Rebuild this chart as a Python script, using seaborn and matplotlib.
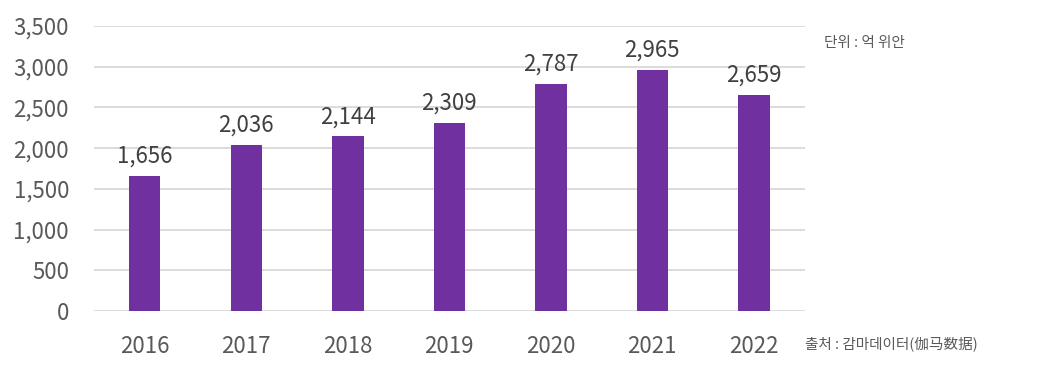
import pandas as pd
import matplotlib
matplotlib.use("Agg")
import matplotlib.pyplot as plt
import seaborn as sns

# data
years = ["2016", "2017", "2018", "2019", "2020", "2021", "2022"]
values = [1656, 2036, 2144, 2309, 2787, 2965, 2659]
y_ticks = [0, 500, 1000, 1500, 2000, 2500, 3000, 3500]

df = pd.DataFrame({"year": years, "value": values})

sns.set_style("white")
plt.rcParams["font.family"] = ["Noto Sans CJK KR", "DejaVu Sans"]

fig = plt.figure(figsize=(10.48, 3.72), dpi=100)
ax = fig.add_axes([0.0897, 0.164, 0.678, 0.766])

sns.barplot(data=df, x="year", y="value", color="#7030A0",
            width=0.31, saturation=1, linewidth=0, ax=ax, zorder=3)

ax.set_ylim(0, 3500)
ax.set_xlim(-0.5, len(years) - 0.5)
ax.set_yticks(y_ticks)
ax.set_yticklabels([f"{v:,}" for v in y_ticks])
ax.yaxis.grid(True, color="#D9D9D9", linewidth=1.3, zorder=0)
ax.set_axisbelow(True)
sns.despine(ax=ax, left=True, bottom=True, top=True, right=True)

ax.tick_params(axis="y", length=0, pad=18, labelsize=16, labelcolor="#595959")
ax.tick_params(axis="x", length=0, pad=17, labelsize=16, labelcolor="#595959")
ax.set_xlabel("")
ax.set_ylabel("")

# data labels
for i, v in enumerate(values):
    ax.text(i, v + 100, f"{v:,}", ha="center", va="bottom",
            fontsize=16, color="#404040")

fig.text(0.786, 0.885, "단위 : 억 위안", fontsize=10.5, color="#595959",
         ha="left", va="center")
fig.text(0.768, 0.075, "출처 : 감마데이터(伽马数据)", fontsize=10.5,
         color="#595959", ha="left", va="center",
         family=["Noto Sans CJK KR", "Noto Sans CJK SC", "DejaVu Sans"])

fig.savefig("out.png", dpi=100)
